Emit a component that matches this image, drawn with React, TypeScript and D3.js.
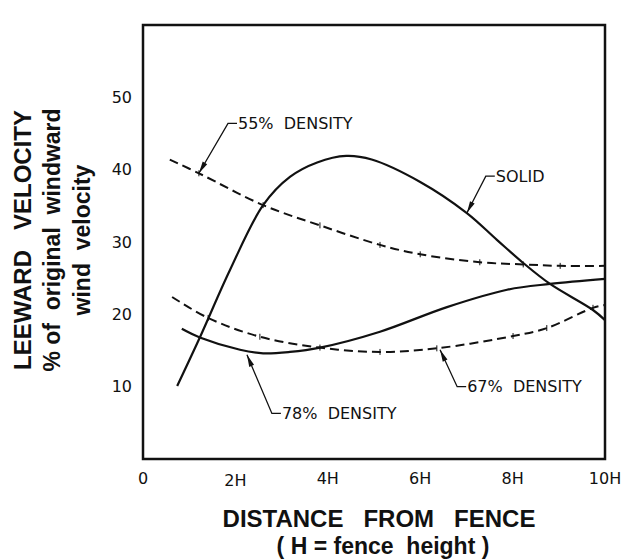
import { useEffect, useRef } from 'react'
import * as d3 from 'd3'

// distance from fence in fence heights (H), leeward velocity in % of windward
const xTickValues = [0, 2, 4, 6, 8, 10]
const xTickLabels = ['0', '2H', '4H', '6H', '8H', '10H']
const yTickValues = [10, 20, 30, 40, 50]

const solidFence: [number, number][] = [
  [0.74, 10.1], [1.23, 16.8], [1.88, 26.1], [2.6, 35.1], [3.18, 39.0],
  [3.77, 41.0], [4.4, 41.9], [4.95, 41.4], [6.0, 38.3], [7.01, 34.0],
  [7.66, 30.3], [8.23, 27.1], [8.81, 24.2], [9.74, 20.6], [10.0, 19.2],
]
const density55: [number, number][] = [
  [0.58, 41.4], [1.21, 39.5], [2.6, 35.1], [3.83, 32.3], [5.13, 29.6],
  [6.0, 28.3], [7.29, 27.2], [8.23, 26.9], [9.03, 26.7], [10.0, 26.7],
]
const density67: [number, number][] = [
  [0.63, 22.4], [1.41, 19.5], [2.53, 16.9], [3.83, 15.4], [5.13, 14.8],
  [6.36, 15.3], [8.01, 17.0], [8.74, 18.1], [9.74, 20.9], [10.0, 21.3],
]
const density78: [number, number][] = [
  [0.84, 18.0], [1.23, 16.8], [2.1, 15.1], [2.6, 14.6], [3.18, 14.8],
  [3.83, 15.4], [5.13, 17.6], [6.58, 21.0], [7.88, 23.4], [8.81, 24.2],
  [10.0, 24.9],
]

const series = [
  { name: 'SOLID', points: solidFence, dashed: false },
  { name: '55% DENSITY', points: density55, dashed: true },
  { name: '67% DENSITY', points: density67, dashed: true },
  { name: '78% DENSITY', points: density78, dashed: false },
]

// callout label, arrow tip on the curve, elbow of the leader (data units)
const callouts = [
  { text: '55%  DENSITY', tip: [1.21, 39.5], elbow: [1.84, 46.4] },
  { text: 'SOLID', tip: [7.01, 34.0], elbow: [7.42, 39.1] },
  { text: '78%  DENSITY', tip: [2.25, 14.4], elbow: [2.79, 6.3] },
  { text: '67%  DENSITY', tip: [6.43, 15.1], elbow: [6.8, 10.0] },
]

const labelFont = '"DejaVu Sans", sans-serif'
const titleFont = '"Liberation Sans", Arial, sans-serif'

export default function App() {
  const svgRef = useRef<SVGSVGElement>(null)

  useEffect(() => {
    if (!svgRef.current) return
    const svg = d3.select(svgRef.current)
    svg.selectAll('*').remove()

    const left = 143, right = 605, top = 25, bottom = 459

    const x = d3.scaleLinear().domain([0, 10]).range([left, right])
    const y = d3.scaleLinear().domain([0, 60]).range([bottom, top])

    svg.append('rect')
      .attr('width', 621).attr('height', 560).attr('fill', '#fff')

    // curves
    const line = d3.line<[number, number]>()
      .x(d => x(d[0]))
      .y(d => y(d[1]))
      .curve(d3.curveCatmullRom.alpha(0.5))

    svg.selectAll('.curve')
      .data(series)
      .enter().append('path')
      .attr('class', 'curve')
      .attr('d', d => line(d.points))
      .attr('fill', 'none')
      .attr('stroke', '#111')
      .attr('stroke-width', d => d.dashed ? 2 : 2.2)
      .attr('stroke-dasharray', d => d.dashed ? '9,5' : null)

    // small plotting ticks on the dashed curves
    series.filter(s => s.dashed).forEach(s => {
      svg.selectAll(null)
        .data(s.points.slice(1, -1))
        .enter().append('line')
        .attr('x1', d => x(d[0])).attr('x2', d => x(d[0]))
        .attr('y1', d => y(d[1]) - 3).attr('y2', d => y(d[1]) + 3)
        .attr('stroke', '#111')
        .attr('stroke-width', 1)
    })

    // frame
    svg.append('rect')
      .attr('x', left).attr('y', top)
      .attr('width', right - left).attr('height', bottom - top)
      .attr('fill', 'none')
      .attr('stroke', '#111')
      .attr('stroke-width', 2.5)

    // tick labels
    svg.selectAll('.ytick')
      .data(yTickValues)
      .enter().append('text')
      .attr('class', 'ytick')
      .attr('x', left - 11)
      .attr('y', d => y(d))
      .attr('dy', '0.36em')
      .attr('text-anchor', 'end')
      .style('font-family', labelFont)
      .style('font-size', '16px')
      .style('fill', '#111')
      .text(d => d)

    svg.selectAll('.xtick')
      .data(xTickValues)
      .enter().append('text')
      .attr('class', 'xtick')
      .attr('x', d => x(d))
      .attr('y', d => bottom + (d === 2 ? 27 : 25))
      .attr('text-anchor', 'middle')
      .style('font-family', labelFont)
      .style('font-size', '16px')
      .style('fill', '#111')
      .text((d, i) => xTickLabels[i])

    // callouts
    const g = svg.append('g')
    callouts.forEach(c => {
      const tx = x(c.tip[0]), ty = y(c.tip[1])
      const ex = x(c.elbow[0]), ey = y(c.elbow[1])
      g.append('path')
        .attr('d', `M${tx},${ty}L${ex},${ey}h9`)
        .attr('fill', 'none')
        .attr('stroke', '#111')
        .attr('stroke-width', 1.3)
      const ang = Math.atan2(ey - ty, ex - tx)
      const len = 12, hw = 2.6
      const bx = tx + len * Math.cos(ang), by = ty + len * Math.sin(ang)
      const nx = -Math.sin(ang) * hw, ny = Math.cos(ang) * hw
      g.append('path')
        .attr('d', `M${tx},${ty}L${bx + nx},${by + ny}L${bx - nx},${by - ny}Z`)
        .attr('fill', '#111')
      g.append('text')
        .attr('x', ex + 10)
        .attr('y', ey)
        .attr('dy', '0.36em')
        .style('font-family', labelFont)
        .style('font-size', '16px')
        .style('white-space', 'pre')
        .style('fill', '#111')
        .text(c.text)
    })

    // axis titles
    const yTitles = [
      { text: 'LEEWARD   VELOCITY', x: 22, size: 24 },
      { text: '% of  original  windward', x: 52, size: 23 },
      { text: 'wind  velocity', x: 82, size: 23 },
    ]
    yTitles.forEach(t => {
      svg.append('text')
        .attr('transform', `translate(${t.x},240) rotate(-90)`)
        .attr('text-anchor', 'middle')
        .attr('dominant-baseline', 'central')
        .style('font-family', titleFont)
        .style('font-weight', '700')
        .style('font-size', `${t.size}px`)
        .style('white-space', 'pre')
        .style('fill', '#111')
        .text(t.text)
    })

    svg.append('text')
      .attr('x', 379).attr('y', 527)
      .attr('text-anchor', 'middle')
      .style('font-family', titleFont)
      .style('font-weight', '700')
      .style('font-size', '24px')
      .style('white-space', 'pre')
      .style('fill', '#111')
      .text('DISTANCE   FROM   FENCE')

    svg.append('text')
      .attr('x', 383).attr('y', 554)
      .attr('text-anchor', 'middle')
      .style('font-family', titleFont)
      .style('font-weight', '700')
      .style('font-size', '23px')
      .style('white-space', 'pre')
      .style('fill', '#111')
      .text('( H = fence  height )')
  }, [])

  return (
    <svg
      ref={svgRef}
      width={621}
      height={560}
      style={{ position: 'absolute', left: 0, top: 0 }}
    />
  )
}
